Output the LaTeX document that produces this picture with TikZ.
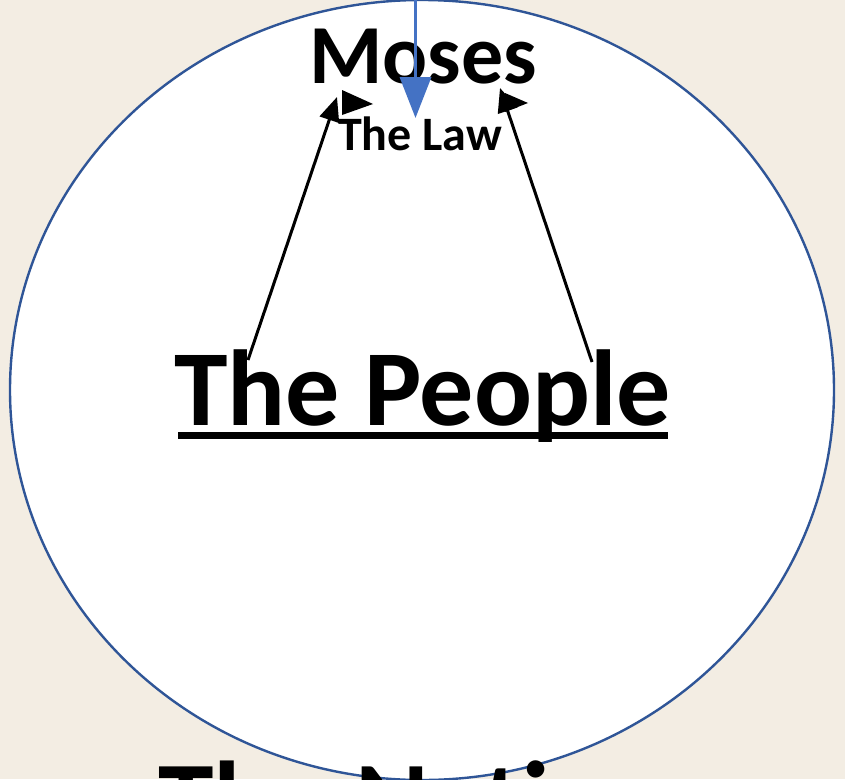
\documentclass[tikz,border=0pt]{standalone}
\usepackage{fontspec}
\setmainfont{Carlito}
\usetikzlibrary{arrows.meta}
\definecolor{parch}{RGB}{243,237,227}
\definecolor{ringblue}{RGB}{47,85,151}
\definecolor{arrowblue}{RGB}{68,114,196}
\tikzset{
  lbl/.style={inner sep=0pt, outer sep=0pt, anchor=base west, text=black, font=\bfseries},
  blk/.style={draw=black, line width=3pt, -{Triangle[length=24pt,width=20pt]}},
  blu/.style={draw=arrowblue, line width=3.6pt, -{Triangle[length=41pt,width=31pt]}},
}
\begin{document}
\begin{tikzpicture}[x=1pt,y=-1pt]
\clip (0,0) rectangle (845,779);
\fill[parch] (0,0) rectangle (845,779);
% circle
\draw[ringblue, line width=2.4pt, fill=white] (422,390) ellipse [x radius=412pt, y radius=390pt];
% texts
\node[lbl, font=\bfseries\fontsize{84}{90}\selectfont] (moses) at (309,83) {Moses};
\node[lbl, font=\bfseries\fontsize{48}{52}\selectfont] (law) at (338,150) {The Law};
\node[lbl, font=\bfseries\fontsize{108}{115}\selectfont] (people) at (174,425) {The People};
\node[lbl, font=\bfseries\fontsize{112}{120}\selectfont] (nation) at (158,839) {The Nation};
\fill[black] (178,432) rectangle (668,439);
% arrows
\coordinate (btop) at (415.5,0);
\coordinate (bend) at (415.5,118);
\draw[blu] (btop) -- (bend);
\coordinate (ls) at (248,360);
\coordinate (le) at (337,97);
\coordinate (rs) at (592,362);
\coordinate (re) at (500,88);
\draw[blk] (ls) -- (le);
\draw[blk] (rs) -- (re);
\fill[black] (342,90) -- (373,104) -- (342,115) -- cycle;
\fill[black] (505,93) -- (528,103) -- (505,112) -- cycle;
\end{tikzpicture}
\end{document}
